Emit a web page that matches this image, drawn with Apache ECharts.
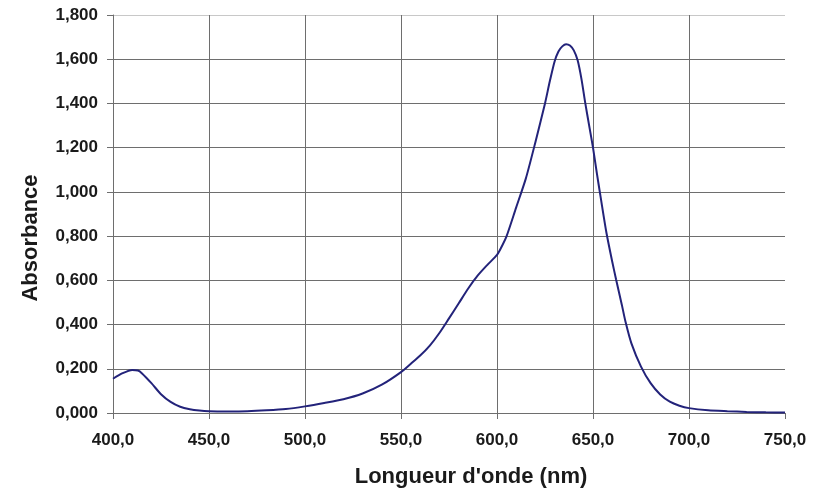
<!DOCTYPE html>
<html>
<head>
<meta charset="utf-8">
<script src="https://cdn.jsdelivr.net/npm/echarts@6/dist/echarts.min.js"></script>
<style>
  html, body { margin: 0; padding: 0; background: #fff; }
  #chart { width: 814px; height: 489px; }
</style>
</head>
<body>
<div id="chart"></div>
<script>
// wavelength (nm) and absorbance
const wavelengths = [400, 405, 410, 413, 415, 420, 425, 430, 435, 440, 445, 450, 460, 470, 480, 490,
  500, 510, 520, 530, 540, 550, 555, 560, 565, 570, 575, 580, 585, 590, 595, 600, 602, 605, 610, 615,
  620, 625, 627.5, 630, 632, 634, 636, 638, 640, 642, 644, 646, 648, 650, 652, 654, 657, 660, 662, 665,
  667, 670, 675, 680, 685, 690, 695, 700, 710, 720, 730, 740, 750];
const absorbance = [0.155, 0.180, 0.195, 0.192, 0.180, 0.135, 0.085, 0.050, 0.028, 0.017, 0.011, 0.008, 0.007, 0.008, 0.012, 0.018,
  0.030, 0.045, 0.062, 0.088, 0.128, 0.185, 0.222, 0.260, 0.305, 0.362, 0.428, 0.495, 0.563, 0.622, 0.670, 0.715, 0.745, 0.800, 0.930, 1.060,
  1.225, 1.400, 1.500, 1.590, 1.635, 1.658, 1.668, 1.662, 1.640, 1.595, 1.510, 1.400, 1.300, 1.200, 1.085, 0.975, 0.815, 0.685, 0.605, 0.490,
  0.410, 0.315, 0.210, 0.135, 0.084, 0.051, 0.033, 0.022, 0.012, 0.008, 0.005, 0.003, 0.002];

const xMin = 400, xMax = 750, xStep = 50;
const yMin = 0, yMax = 1.8, yStep = 0.2;

const dom = document.getElementById('chart');
const myChart = echarts.init(dom, null, { renderer: 'canvas' });

const labelFont = { fontFamily: 'Liberation Sans, Arial, sans-serif', fontWeight: 'bold', color: '#1a1a1a' };

// y gridlines: dark everywhere but the top one, which is light
const yGridColors = [];
for (let i = 0; i <= Math.round((yMax - yMin) / yStep); i++) yGridColors.push('#6e6e6e');
yGridColors[yGridColors.length - 1] = '#c8c8c8';
// x gridlines: no line at the right edge
const xGridColors = [];
for (let i = 0; i <= (xMax - xMin) / xStep; i++) xGridColors.push('#6e6e6e');
xGridColors[xGridColors.length - 1] = 'rgba(0,0,0,0)';

const option = {
  animation: false,
  backgroundColor: '#fff',
  grid: { left: 113, right: 29, top: 15, bottom: 76, outerBoundsMode: 'none' },
  xAxis: {
    type: 'value',
    min: xMin,
    max: xMax,
    interval: xStep,
    name: "Longueur d'onde (nm)",
    nameLocation: 'middle',
    nameGap: 53,
    nameTextStyle: Object.assign({}, labelFont, { fontSize: 22, padding: [0, 0, 0, 44] }),
    axisLine: { lineStyle: { color: '#6e6e6e', width: 1 } },
    axisTick: { show: true, length: 6, lineStyle: { color: '#6e6e6e' } },
    axisLabel: Object.assign({}, labelFont, {
      fontSize: 17, margin: 19,
      formatter: v => v.toFixed(1).replace('.', ',')
    }),
    splitLine: { show: true, lineStyle: { color: xGridColors, width: 1 } }
  },
  yAxis: {
    type: 'value',
    min: yMin,
    max: yMax,
    interval: yStep,
    name: 'Absorbance',
    nameLocation: 'middle',
    nameGap: 71,
    nameTextStyle: Object.assign({}, labelFont, { fontSize: 22, padding: [0, 48, 0, 0] }),
    axisLine: { show: true, lineStyle: { color: '#6e6e6e', width: 1 } },
    axisTick: { show: true, length: 6, lineStyle: { color: '#6e6e6e' } },
    axisLabel: Object.assign({}, labelFont, {
      fontSize: 17, margin: 15,
      formatter: v => v.toFixed(3).replace('.', ',')
    }),
    splitLine: { show: true, lineStyle: { color: yGridColors, width: 1 } }
  },
  series: [{
    type: 'line',
    data: wavelengths.map((w, i) => [w, absorbance[i]]),
    smooth: 0.25,
    showSymbol: false,
    lineStyle: { color: '#23237a', width: 2 }
  }]
};

myChart.setOption(option);
window.addEventListener('resize', myChart.resize);
</script>
</body>
</html>
